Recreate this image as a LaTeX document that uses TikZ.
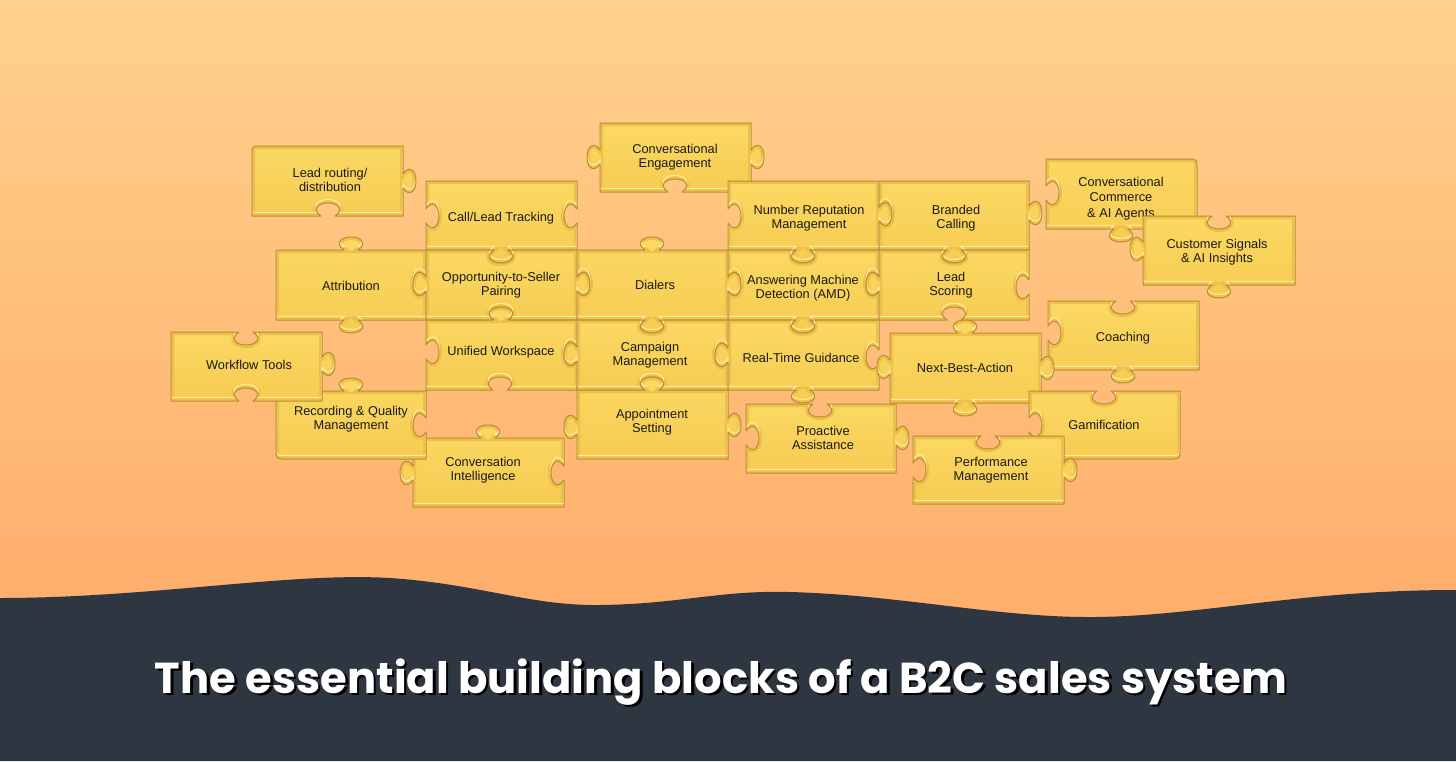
\documentclass[tikz,border=0pt]{standalone}
\usepackage{fontspec}
\usepackage{graphicx}
\setmainfont{Liberation Sans}
\newfontfamily\titlefont{Poppins}
\definecolor{bgtop}{HTML}{FFD18C}
\definecolor{bgbot}{HTML}{FFAD6B}
\definecolor{darkbg}{HTML}{2E3741}
\definecolor{pztop}{HTML}{FBD963}
\definecolor{pzbot}{HTML}{F6CB52}
\definecolor{pzband}{HTML}{EEC04A}
\definecolor{pzhi}{HTML}{FFEB9C}
\definecolor{pzedge}{HTML}{B38E36}
\definecolor{lbltext}{HTML}{1A1A1A}
% tabs: s=1 outward tab, s=-1 inward notch
\newcommand\tT[3]{-- ({#1-7},{#2}) .. controls ({#1-16},{#2-6*(#3)}) and ({#1-11},{#2-13*(#3)}) .. ({#1},{#2-13*(#3)}) .. controls ({#1+11},{#2-13*(#3)}) and ({#1+16},{#2-6*(#3)}) .. ({#1+7},{#2})}
\newcommand\tR[3]{-- ({#1},{#2-7}) .. controls ({#1+6*(#3)},{#2-16}) and ({#1+13*(#3)},{#2-11}) .. ({#1+13*(#3)},{#2}) .. controls ({#1+13*(#3)},{#2+11}) and ({#1+6*(#3)},{#2+16}) .. ({#1},{#2+7})}
\newcommand\tB[3]{-- ({#1+7},{#2}) .. controls ({#1+16},{#2+6*(#3)}) and ({#1+11},{#2+13*(#3)}) .. ({#1},{#2+13*(#3)}) .. controls ({#1-11},{#2+13*(#3)}) and ({#1-16},{#2+6*(#3)}) .. ({#1-7},{#2})}
\newcommand\tL[3]{-- ({#1},{#2+7}) .. controls ({#1-6*(#3)},{#2+16}) and ({#1-13*(#3)},{#2+11}) .. ({#1-13*(#3)},{#2}) .. controls ({#1-13*(#3)},{#2-11}) and ({#1-6*(#3)},{#2-16}) .. ({#1},{#2-7})}
\newcommand\pz[1]{%
  \shade[top color=pztop,bottom color=pzbot] #1;
  \begin{scope}\clip #1;
    \draw[pzband,line width=6pt] #1;
    \draw[pzhi,line width=1.2pt,shift={(0,-3.5)}] #1;
  \end{scope}
  \draw[pzedge,line width=1pt,line join=round] #1;}
\begin{document}
\begin{tikzpicture}[x=1pt,y=-1pt,
  lbl/.style={align=center,text=lbltext,font=\fontsize{12.8}{14.2}\selectfont,inner sep=0pt}]
\useasboundingbox (0,0) rectangle (1456,761);
% background
\shade[top color=bgtop,bottom color=bgbot] (0,0) rectangle (1456,625);
\fill[darkbg] (0,598) .. controls (150,598) and (290,572) .. (390,578)
  .. controls (480,584) and (530,606) .. (600,605)
  .. controls (680,604) and (720,590) .. (790,592)
  .. controls (900,595) and (1000,618) .. (1095,617)
  .. controls (1200,616) and (1300,590) .. (1456,590)
  -- (1456,761) -- (0,761) -- cycle;
% ---- pieces ----
% Conversation Intelligence
\pz{(413,438) \tT{488}{438}{1} -- (564,438) \tR{564}{473}{-1} -- (564,507) -- (413,507) \tL{413}{473}{1} -- cycle}
\node[lbl] (ci) at (483,470) {Conversation\\Intelligence};
% Recording & Quality Management
\pz{(276,391) \tT{351}{391}{1} -- (426,391) \tR{426}{425}{-1} -- (426,459) -- (286,459) .. controls (276,459) .. (276,449) -- cycle}
\node[lbl] (rq) at (351,419) {Recording \& Quality\\Management};
% Workflow Tools
\pz{(171,332) \tT{246}{332}{-1} -- (322,332) \tR{322}{364}{1} -- (322,401) \tB{246}{401}{-1} -- (171,401) -- cycle}
\node[lbl] (wf) at (249,365) {Workflow Tools};
% Lead routing
\pz{(252,155) .. controls (252,146) .. (261,146) -- (403,146) \tR{403}{181}{1} -- (403,216) \tB{328}{216}{-1} -- (252,216) -- cycle}
\node[lbl] (lr) at (330,180) {Lead routing/\\distribution};
% Attribution
\pz{(276,250) \tT{351}{250}{1} -- (426,250) \tR{426}{284}{-1} -- (426,320) \tB{351}{320}{1} -- (276,320) -- cycle}
\node[lbl] (at) at (351,286) {Attribution};
% Call/Lead Tracking
\pz{(426,181) -- (577,181) \tR{577}{216}{-1} -- (577,250) \tB{501}{250}{1} -- (426,250) \tL{426}{216}{-1} -- cycle}
\node[lbl] (cl) at (501,218) {Call/Lead Tracking};
% Opportunity-to-Seller Pairing
\pz{(426,250) \tT{501}{250}{-1} -- (577,250) \tR{577}{284}{1} -- (577,320) \tB{501}{320}{-1} -- (426,320) \tL{426}{284}{1} -- cycle}
\node[lbl] (op) at (501,285) {Opportunity-to-Seller\\Pairing};
% Unified Workspace
\pz{(426,320) \tT{501}{320}{1} -- (577,320) \tR{577}{354}{-1} -- (577,390) \tB{500}{390}{-1} -- (426,390) \tL{426}{352}{-1} -- cycle}
\node[lbl] (uw) at (501,352) {Unified Workspace};
% Conversational Engagement
\pz{(600,123) -- (751,123) \tR{751}{157}{1} -- (751,192) \tB{675}{192}{-1} -- (600,192) \tL{600}{157}{1} -- cycle}
\node[lbl] (ce) at (675,157) {Conversational\\Engagement};
% Dialers
\pz{(577,250) \tT{652}{250}{1} -- (728,250) \tR{728}{284}{1} -- (728,320) \tB{652}{320}{1} -- (577,320) \tL{577}{284}{-1} -- cycle}
\node[lbl] (di) at (655,285) {Dialers};
% Campaign Management
\pz{(577,320) \tT{652}{320}{-1} -- (728,320) \tR{728}{355}{-1} -- (728,390) \tB{652}{390}{-1} -- (577,390) \tL{577}{354}{1} -- cycle}
\node[lbl] (cm) at (650,355) {Campaign\\Management};
% Appointment Setting
\pz{(577,390) \tT{652}{390}{1} -- (728,390) \tR{728}{425}{1} -- (728,459) -- (577,459) \tL{577}{427}{1} -- cycle}
\node[lbl] (as) at (652,422) {Appointment\\Setting};
% Number Reputation Management
\pz{(728,181) -- (879,181) \tR{879}{214}{1} -- (879,250) \tB{803}{250}{1} -- (728,250) \tL{728}{216}{-1} -- cycle}
\node[lbl] (nr) at (809,218) {Number Reputation\\Management};
% AMD
\pz{(728,250) \tT{803}{250}{-1} -- (879,250) \tR{879}{284}{-1} -- (879,320) \tB{803}{320}{1} -- (728,320) \tL{728}{284}{-1} -- cycle}
\node[lbl] (amd) at (803,288) {Answering Machine\\Detection (AMD)};
% Real-Time Guidance
\pz{(728,320) \tT{803}{320}{-1} -- (879,320) \tR{879}{357}{-1} -- (879,390) \tB{803}{390}{1} -- (728,390) \tL{728}{355}{1} -- cycle}
\node[lbl] (rt) at (801,358) {Real-Time Guidance};
% Proactive Assistance
\pz{(746,404) \tT{820}{404}{-1} -- (896,404) \tR{896}{438}{1} -- (896,473) -- (746,473) \tL{746}{438}{-1} -- cycle}
\node[lbl] (pa) at (823,438) {Proactive\\Assistance};
% Branded Calling
\pz{(879,181) -- (1029,181) \tR{1029}{213}{1} -- (1029,250) \tB{954}{250}{1} -- (879,250) \tL{879}{214}{-1} -- cycle}
\node[lbl] (bc) at (956,218) {Branded\\Calling};
% Lead Scoring
\pz{(879,250) \tT{954}{250}{-1} -- (1029,250) \tR{1029}{287}{-1} -- (1029,320) \tB{954}{320}{-1} -- (879,320) \tL{879}{284}{1} -- cycle}
\node[lbl] (ls) at (951,285) {Lead\\Scoring};
% Conversational Commerce
\pz{(1046,159) -- (1187,159) .. controls (1197,159) .. (1197,169) -- (1197,229) \tB{1121}{229}{1} -- (1046,229) \tL{1046}{193}{-1} -- cycle}
\node[lbl,font=\fontsize{12.8}{15.2}\selectfont] (cc) at (1121,198.5) {Conversational\\Commerce\\\& AI Agents};
% Customer Signals
\pz{(1143,216) \tT{1219}{216}{-1} -- (1295,216) -- (1295,285) \tB{1219}{285}{1} -- (1143,285) \tL{1143}{249}{1} -- cycle}
\node[lbl] (cs) at (1217,252) {Customer Signals\\\& AI Insights};
% Coaching
\pz{(1048,301) \tT{1123}{301}{-1} -- (1199,301) -- (1199,370) \tB{1123}{370}{1} -- (1048,370) \tL{1048}{333}{-1} -- cycle}
\node[lbl] (co) at (1123,338) {Coaching};
% Next-Best-Action
\pz{(890,333) \tT{965}{333}{1} -- (1041,333) \tR{1041}{368}{1} -- (1041,403) \tB{965}{403}{1} -- (890,403) \tL{890}{367}{1} -- cycle}
\node[lbl] (nba) at (965,368) {Next-Best-Action};
% Gamification
\pz{(1029,391) \tT{1104}{391}{-1} -- (1180,391) -- (1180,449) .. controls (1180,459) .. (1170,459) -- (1029,459) \tL{1029}{425}{-1} -- cycle}
\node[lbl] (ga) at (1104,425) {Gamification};
% Performance Management
\pz{(913,436) \tT{988}{436}{-1} -- (1064,436) \tR{1064}{470}{1} -- (1064,504) -- (913,504) \tL{913}{470}{-1} -- cycle}
\node[lbl] (pm) at (991,470) {Performance\\Management};
% ---- title ----
\node[text=black,font=\titlefont\bfseries,inner sep=0pt] (titleshadow) at (723.5,684.5) {\resizebox{1132pt}{!}{The essential building blocks of a B2C sales system}};
\node[text=white,font=\titlefont\bfseries,inner sep=0pt] (title) at (721,682) {\resizebox{1132pt}{!}{The essential building blocks of a B2C sales system}};
\end{tikzpicture}
\end{document}
